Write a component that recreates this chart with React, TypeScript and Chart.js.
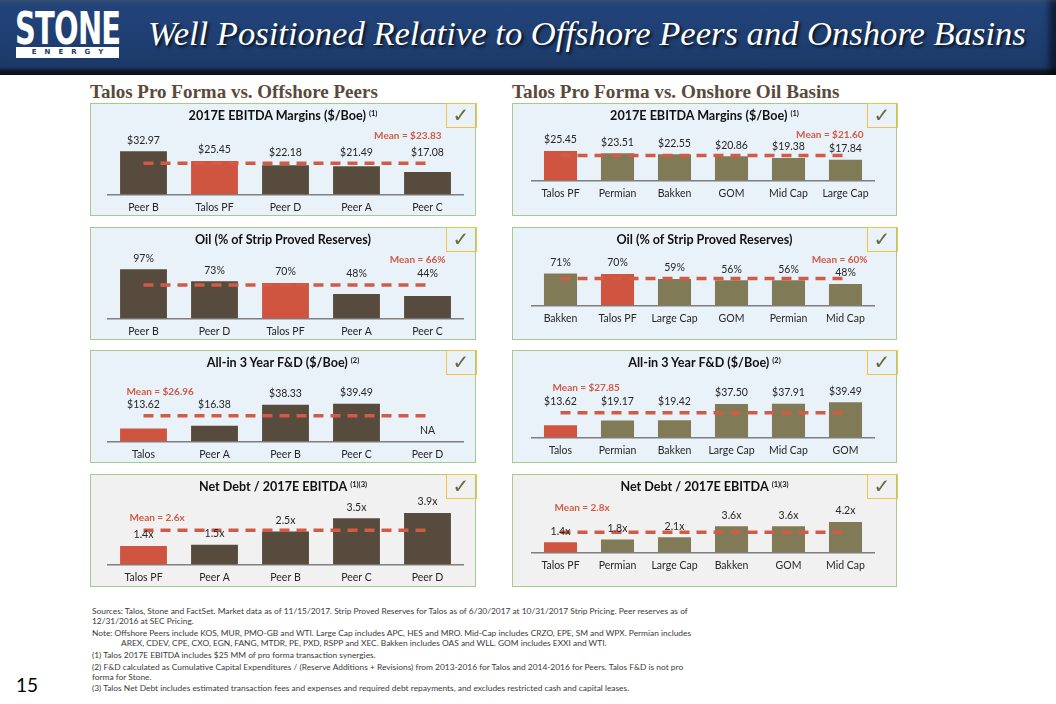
import React, { useEffect, useRef } from "react";
import { Chart, registerables } from "chart.js";

Chart.register(...registerables);

// ---------------- DATA ----------------
const offEbitdaCategories = ["Peer B", "Talos PF", "Peer D", "Peer A", "Peer C"];
const offEbitdaValues = [32.97, 25.45, 22.18, 21.49, 17.08];
const offEbitdaMean = 23.83;

const onEbitdaCategories = ["Talos PF", "Permian", "Bakken", "GOM", "Mid Cap", "Large Cap"];
const onEbitdaValues = [25.45, 23.51, 22.55, 20.86, 19.38, 17.84];
const onEbitdaMean = 21.6;

const offOilCategories = ["Peer B", "Peer D", "Talos PF", "Peer A", "Peer C"];
const offOilValues = [97, 73, 70, 48, 44];
const offOilMean = 66;

const onOilCategories = ["Bakken", "Talos PF", "Large Cap", "GOM", "Permian", "Mid Cap"];
const onOilValues = [71, 70, 59, 56, 56, 48];
const onOilMean = 60;

const offFdCategories = ["Talos", "Peer A", "Peer B", "Peer C", "Peer D"];
const offFdValues: (number | null)[] = [13.62, 16.38, 38.33, 39.49, null];
const offFdMean = 26.96;

const onFdCategories = ["Talos", "Permian", "Bakken", "Large Cap", "Mid Cap", "GOM"];
const onFdValues = [13.62, 19.17, 19.42, 37.5, 37.91, 39.49];
const onFdMean = 27.85;

const offDebtCategories = ["Talos PF", "Peer A", "Peer B", "Peer C", "Peer D"];
const offDebtValues = [1.4, 1.5, 2.5, 3.5, 3.9];
const offDebtMean = 2.6;

const onDebtCategories = ["Talos PF", "Permian", "Large Cap", "Bakken", "GOM", "Mid Cap"];
const onDebtValues = [1.4, 1.8, 2.1, 3.6, 3.6, 4.2];
const onDebtMean = 2.8;

// ---------------- STYLE ----------------
const FONT = "Lato, 'Open Sans', 'Noto Sans', sans-serif";
const TALOS_RED = "#cf5540";
const OFF_BROWN = "#574b3d";
const ON_OLIVE = "#807b56";
const MEAN_RED = "#d25b46";
const TEXT_DARK = "#262626";
const BLUE_BG = "#e9f1f9";
const GRAY_BG = "#f1f1f1";
const PANEL_BORDER = "#a8c98c";
const TOP_PAD = 28;
const AXIS_EXTRA = 7.5;

const LEFT_X = 90;
const LEFT_W = 386;
const RIGHT_X = 512;
const RIGHT_W = 385;
const PANEL_H = 113;
const ROW_TOPS = [103, 227, 350, 474];

const fmtDollar = (v: number) => "$" + v.toFixed(2);
const fmtPct = (v: number) => v.toFixed(0) + "%";
const fmtX = (v: number) => v.toFixed(1) + "x";

type PanelCfg = {
  title: string;
  sup: string;
  cats: string[];
  vals: (number | null)[];
  mean: number;
  fmt: (v: number) => string;
  color: string;
  x: number;
  y: number;
  w: number;
  baseline: number;
  yMax: number;
  barPct: number;
  padL: number;
  padR: number;
  meanPos: { left?: number; right?: number; top: number };
  clearMean: boolean;
  bg: string;
};

const left = (row: number) => ({ x: LEFT_X, y: ROW_TOPS[row], w: LEFT_W, barPct: 0.66, padL: 18, padR: 13, color: OFF_BROWN });
const right = (row: number) => ({ x: RIGHT_X, y: ROW_TOPS[row], w: RIGHT_W, barPct: 0.58, padL: 20, padR: 23, color: ON_OLIVE });

const panels: PanelCfg[] = [
  {
    ...left(0), title: "2017E EBITDA Margins ($/Boe)", sup: "(1)", cats: offEbitdaCategories, vals: offEbitdaValues,
    mean: offEbitdaMean, fmt: fmtDollar, baseline: 91, yMax: 48.3, meanPos: { right: 35, top: 32 }, clearMean: true, bg: BLUE_BG,
  },
  {
    ...right(0), title: "2017E EBITDA Margins ($/Boe)", sup: "(1)", cats: onEbitdaCategories, vals: onEbitdaValues,
    mean: onEbitdaMean, fmt: fmtDollar, baseline: 77, yMax: 42.6, meanPos: { right: 34, top: 31 }, clearMean: false, bg: BLUE_BG,
  },
  {
    ...left(1), title: "Oil (% of Strip Proved Reserves)", sup: "", cats: offOilCategories, vals: offOilValues,
    mean: offOilMean, fmt: fmtPct, baseline: 91, yMax: 124.8, meanPos: { right: 31, top: 32 }, clearMean: true, bg: BLUE_BG,
  },
  {
    ...right(1), title: "Oil (% of Strip Proved Reserves)", sup: "", cats: onOilCategories, vals: onOilValues,
    mean: onOilMean, fmt: fmtPct, baseline: 78, yMax: 112.1, meanPos: { right: 30, top: 32 }, clearMean: false, bg: BLUE_BG,
  },
  {
    ...left(2), title: "All-in 3 Year F&D ($/Boe)", sup: "(2)", cats: offFdCategories, vals: offFdValues,
    mean: offFdMean, fmt: fmtDollar, baseline: 91, yMax: 66.3, meanPos: { left: 37, top: 41 }, clearMean: true, bg: BLUE_BG,
  },
  {
    ...right(2), title: "All-in 3 Year F&D ($/Boe)", sup: "(2)", cats: onFdCategories, vals: onFdValues,
    mean: onFdMean, fmt: fmtDollar, baseline: 87, yMax: 66.7, meanPos: { left: 41, top: 37 }, clearMean: true, bg: BLUE_BG,
  },
  {
    ...left(3), title: "Net Debt / 2017E EBITDA", sup: "(1)(3)", cats: offDebtCategories, vals: offDebtValues,
    mean: offDebtMean, fmt: fmtX, baseline: 90, yMax: 4.74, meanPos: { left: 40, top: 43 }, clearMean: false, bg: GRAY_BG,
  },
  {
    ...right(3), title: "Net Debt / 2017E EBITDA", sup: "(1)(3)", cats: onDebtCategories, vals: onDebtValues,
    mean: onDebtMean, fmt: fmtX, baseline: 78, yMax: 6.94, meanPos: { left: 43, top: 33 }, clearMean: false, bg: GRAY_BG,
  },
];

const meanText = (cfg: PanelCfg) => {
  if (cfg.fmt === fmtDollar) return "Mean = $" + cfg.mean.toFixed(2);
  if (cfg.fmt === fmtPct) return "Mean = " + cfg.mean.toFixed(0) + "%";
  return "Mean = " + cfg.mean.toFixed(1) + "x";
};

function Panel({ cfg }: { cfg: PanelCfg }) {
  const ref = useRef<HTMLCanvasElement>(null);
  useEffect(() => {
    const canvas = ref.current;
    if (!canvas) return;
    const tickSize = 10.5;
    const bottomPad = PANEL_H - cfg.baseline - tickSize * 1.2 - 7 - AXIS_EXTRA;
    const labelPlugin = {
      id: "valueLabels",
      afterDatasetsDraw(chart: any) {
        const ctx = chart.ctx;
        const xs = chart.scales.x;
        const ys = chart.scales.y;
        const meanY = ys.getPixelForValue(cfg.mean);
        ctx.save();
        ctx.font = `${tickSize}px ${FONT}`;
        ctx.fillStyle = TEXT_DARK;
        ctx.textAlign = "center";
        ctx.textBaseline = "middle";
        cfg.vals.forEach((v, i) => {
          const x = xs.getPixelForValue(i);
          if (v == null) {
            ctx.fillText("NA", x, ys.getPixelForValue(0) - 11);
            return;
          }
          const top = ys.getPixelForValue(v);
          const refY = cfg.clearMean ? Math.min(top, meanY) : top;
          ctx.fillText(cfg.fmt(v), x, refY - 11);
        });
        ctx.restore();
      },
    };
    const chart = new Chart(canvas, {
      type: "bar",
      data: {
        labels: cfg.cats,
        datasets: [
          {
            type: "bar",
            data: cfg.vals as any,
            backgroundColor: cfg.cats.map((c) => (c.startsWith("Talos") ? TALOS_RED : cfg.color)),
            barPercentage: cfg.barPct,
            categoryPercentage: 1,
            order: 2,
          },
          {
            type: "line",
            data: cfg.cats.map(() => cfg.mean),
            borderColor: MEAN_RED,
            borderWidth: 3.5,
            borderDash: [10, 7],
            pointRadius: 0,
            fill: false,
            order: 1,
          } as any,
        ],
      },
      options: {
        animation: false,
        responsive: false,
        maintainAspectRatio: false,
        layout: { padding: { top: TOP_PAD, bottom: bottomPad, left: cfg.padL, right: cfg.padR } },
        plugins: { legend: { display: false }, tooltip: { enabled: false } },
        scales: {
          x: {
            grid: { display: false, drawTicks: false },
            border: { display: true, color: "#7f7f7f", width: 1.5 },
            ticks: { padding: 7, color: TEXT_DARK, font: { size: tickSize, family: FONT }, maxRotation: 0, autoSkip: false },
          },
          y: { display: false, min: 0, max: cfg.yMax },
        },
      },
      plugins: [labelPlugin],
    });
    return () => chart.destroy();
  }, []);

  return (
    <div
      style={{
        position: "absolute",
        left: cfg.x,
        top: cfg.y,
        width: cfg.w,
        height: PANEL_H,
        background: cfg.bg,
        boxSizing: "border-box",
        border: `1.5px solid ${PANEL_BORDER}`,
      }}
    >
      <canvas
        ref={ref}
        width={cfg.w}
        height={PANEL_H}
        style={{ position: "absolute", left: -1.5, top: -1.5, width: cfg.w, height: PANEL_H }}
      />
      <div
        style={{
          position: "absolute",
          left: 0,
          right: 0,
          top: 4,
          textAlign: "center",
          fontFamily: FONT,
          fontWeight: 700,
          fontSize: 12.6,
          color: "#111",
          whiteSpace: "nowrap",
        }}
      >
        {cfg.title}
        {cfg.sup ? <sup style={{ fontSize: 7.5, marginLeft: 3, verticalAlign: "4px" }}>{cfg.sup}</sup> : null}
      </div>
      <div
        style={{
          position: "absolute",
          ...(cfg.meanPos.left != null ? { left: cfg.meanPos.left - 1.5 } : { right: cfg.meanPos.right! - 1.5 }),
          top: cfg.meanPos.top - 8,
          lineHeight: "14px",
          fontFamily: FONT,
          fontWeight: 700,
          fontSize: 10,
          color: MEAN_RED,
          whiteSpace: "nowrap",
        }}
      >
        {meanText(cfg)}
      </div>
      <div
        style={{
          position: "absolute",
          right: -1.5,
          top: -1.5,
          width: 31,
          height: 25,
          boxSizing: "border-box",
          border: "1.5px solid #f2c440",
          display: "flex",
          alignItems: "center",
          justifyContent: "center",
          fontFamily: "'DejaVu Sans', sans-serif",
          fontWeight: 700,
          fontSize: 20,
          color: "#6b6a3b",
          lineHeight: 1,
        }}
      >
        ✓
      </div>
    </div>
  );
}

const footnotes: { text: string; top: number; indent: number }[] = [
  { text: "Sources: Talos, Stone and FactSet. Market data as of 11/15/2017. Strip Proved Reserves for Talos as of 6/30/2017 at 10/31/2017 Strip Pricing. Peer reserves as of", top: 611, indent: 0 },
  { text: "12/31/2016 at SEC Pricing.", top: 621, indent: 0 },
  { text: "Note: Offshore Peers include KOS, MUR, PMO-GB and WTI. Large Cap includes APC, HES and MRO. Mid-Cap includes CRZO, EPE, SM and WPX. Permian includes", top: 633, indent: 0 },
  { text: "AREX, CDEV, CPE, CXO, EGN, FANG, MTDR, PE, PXD, RSPP and XEC. Bakken includes OAS and WLL. GOM includes EXXI and WTI.", top: 643, indent: 29 },
  { text: "(1) Talos 2017E EBITDA includes $25 MM of pro forma transaction synergies.", top: 655, indent: 0 },
  { text: "(2) F&D calculated as Cumulative Capital Expenditures / (Reserve Additions + Revisions) from 2013-2016 for Talos and 2014-2016 for Peers. Talos F&D is not pro", top: 667, indent: 0 },
  { text: "forma for Stone.", top: 677, indent: 0 },
  { text: "(3) Talos Net Debt includes estimated transaction fees and expenses and required debt repayments, and excludes restricted cash and capital leases.", top: 688, indent: 0 },
];

export default function App() {
  return (
    <div
      style={{
        position: "absolute",
        left: 0,
        top: 0,
        width: 1056,
        height: 704,
        background: "#ffffff",
        overflow: "hidden",
        fontFamily: FONT,
      }}
    >
      {/* Header banner */}
      <div
        style={{
          position: "absolute",
          left: 0,
          top: 0,
          width: 1056,
          height: 75,
          background:
            "linear-gradient(to bottom, #4a6c9c 0px, #2a4c80 3px, #22437a 8px, #1f3f72 40px, #1b3a68 67px, #0e1b30 71px, #151515 75px)",
          boxShadow: "inset -7px 0 6px rgba(0,0,0,0.55)",
        }}
      />
      {/* Logo */}
      <div
        style={{
          position: "absolute",
          left: 15,
          top: 9,
          width: 108,
          height: 38,
          color: "#ffffff",
          fontFamily: "'DejaVu Sans Condensed', 'DejaVu Sans', sans-serif",
          fontWeight: 700,
          fontSize: 44,
          lineHeight: "40px",
          letterSpacing: -1,
          transform: "scaleX(0.73)",
          transformOrigin: "left top",
          whiteSpace: "nowrap",
        }}
      >
        STONE
      </div>
      <div
        style={{
          position: "absolute",
          left: 16,
          top: 47,
          width: 103,
          height: 11,
          background: "#ffffff",
          color: "#1d3a66",
          fontFamily: "'DejaVu Sans', sans-serif",
          fontWeight: 700,
          fontSize: 7,
          lineHeight: "11px",
          textAlign: "center",
          letterSpacing: 8,
          textIndent: 8,
        }}
      >
        ENERGY
      </div>
      {/* Title */}
      <div
        style={{
          position: "absolute",
          left: 148,
          top: 16,
          color: "#ffffff",
          fontFamily: "'Liberation Serif', 'Times New Roman', serif",
          fontStyle: "italic",
          fontSize: 34.6,
          lineHeight: "34px",
          whiteSpace: "nowrap",
          textShadow: "2px 2px 3px rgba(0,0,0,0.75)",
        }}
      >
        Well Positioned Relative to Offshore Peers and Onshore Basins
      </div>

      {/* Section headings */}
      <div
        style={{
          position: "absolute",
          left: 90,
          top: 80,
          color: "#5a4a3a",
          fontFamily: "'Liberation Serif', serif",
          fontWeight: 700,
          fontSize: 19,
          lineHeight: "24px",
          whiteSpace: "nowrap",
        }}
      >
        Talos Pro Forma vs. Offshore Peers
      </div>
      <div
        style={{
          position: "absolute",
          left: 512,
          top: 80,
          color: "#5a4a3a",
          fontFamily: "'Liberation Serif', serif",
          fontWeight: 700,
          fontSize: 19.2,
          lineHeight: "24px",
          whiteSpace: "nowrap",
        }}
      >
        Talos Pro Forma vs. Onshore Oil Basins
      </div>

      {panels.map((p, i) => (
        <Panel key={i} cfg={p} />
      ))}

      {/* Footnotes */}
      {footnotes.map((f, i) => (
        <div
          key={i}
          style={{
            position: "absolute",
            left: 92 + f.indent,
            top: f.top - 5,
            lineHeight: "10px",
            fontSize: 8.4,
            color: "#3a3a3a",
            fontFamily: FONT,
            whiteSpace: "nowrap",
          }}
        >
          {f.text}
        </div>
      ))}

      {/* Page number */}
      <div
        style={{
          position: "absolute",
          left: 16,
          top: 674,
          fontSize: 19,
          lineHeight: "22px",
          color: "#000",
          fontFamily: FONT,
        }}
      >
        15
      </div>
    </div>
  );
}
